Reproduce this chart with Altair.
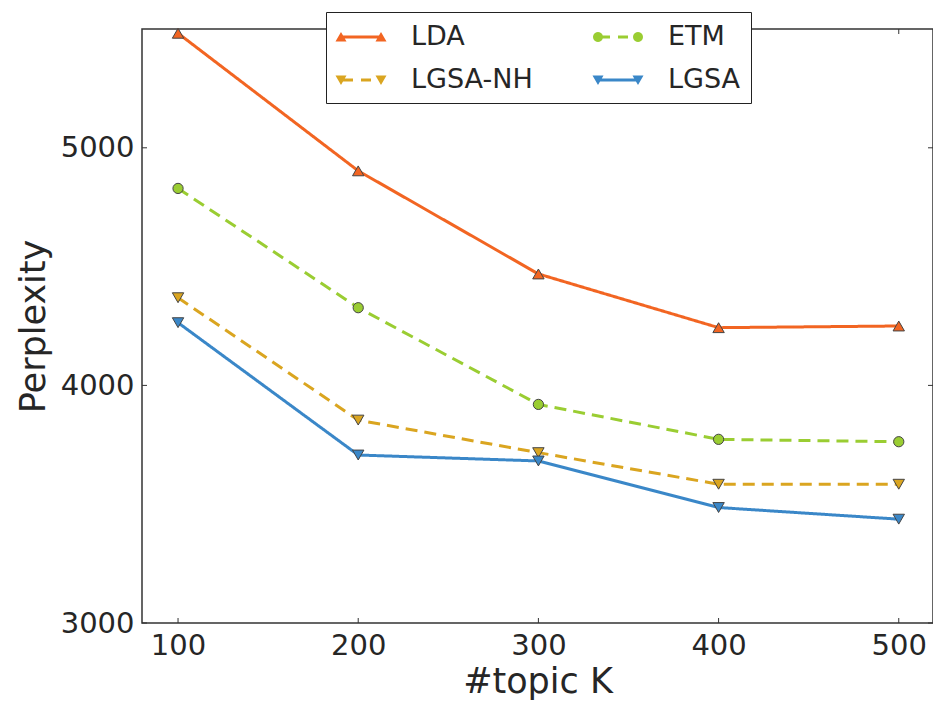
import math
import altair as alt
import pandas as pd

# ---- data ----
topics = [100, 200, 300, 400, 500]
series_names = ["LDA", "ETM", "LGSA-NH", "LGSA"]
lda = [5482, 4903, 4469, 4243, 4250]
etm = [4829, 4327, 3920, 3773, 3763]
lgsa_nh = [4369, 3854, 3717, 3584, 3584]
lgsa = [4264, 3707, 3682, 3486, 3437]
x_tick_values = [100, 200, 300, 400, 500]
y_tick_values = [3000, 4000, 5000]

colors = ["#F26522", "#9ACD32", "#DAA520", "#3A87C8"]
marker_shapes = ["triangle-up", "circle", "triangle-down", "triangle-down"]
marker_sizes = [130, 105, 130, 130]
dashes = [[1, 0], [12, 7], [12, 7], [1, 0]]

values = {"LDA": lda, "ETM": etm, "LGSA-NH": lgsa_nh, "LGSA": lgsa}
rows = []
for name in series_names:
    for t, v in zip(topics, values[name]):
        rows.append({"series": name, "topic": t, "perplexity": v})
df = pd.DataFrame(rows)

W, H = 791, 594
FONT = "DejaVu Sans"
TXT = "#262626"

# ---- legend symbols (line + two markers); symbol unit = 15 px (size 900) ----
SYM = 15.0

def u(px):  # px measured from the symbol's left edge -> symbol units
    return (px - 15.0) / SYM

def f(v):
    return f"{v:.3f}"

def poly(pts):
    return "M" + "L".join(f"{f(x)},{f(y)}" for x, y in pts) + "Z"

def tri_up(cpx):
    c, hw = u(cpx), 5.5 / SYM
    return poly([(c - hw, 4.5 / SYM), (c, -5.0 / SYM), (c + hw, 4.5 / SYM)])

def tri_down(cpx):
    c, hw = u(cpx), 5.5 / SYM
    return poly([(c - hw, -4.5 / SYM), (c + hw, -4.5 / SYM), (c, 5.0 / SYM)])

def circ(cpx, rpx=5.0, n=20):
    c, r = u(cpx), rpx / SYM
    return poly([(c + r * math.cos(2 * math.pi * k / n), r * math.sin(2 * math.pi * k / n)) for k in range(n)])

def seg(apx, bpx, hpx=1.5):
    a, b, h = u(apx), u(bpx), hpx / SYM
    return poly([(a, -h), (b, -h), (b, h), (a, h)])

solid = seg(5, 45)
dashed = seg(5, 17) + seg(25, 35)
legend_paths = [
    solid + tri_up(5) + tri_up(45),
    dashed + circ(5) + circ(45),
    dashed + tri_down(5) + tri_down(45),
    solid + tri_down(5) + tri_down(45),
]

x_axis = alt.Axis(values=x_tick_values, title="#topic K", grid=False, ticks=False, tickSize=0,
                  domain=False, labelFontSize=29, titleFontSize=35, labelPadding=8,
                  titlePadding=4, labelFont=FONT, titleFont=FONT, labelColor=TXT,
                  titleColor=TXT, titleFontWeight="normal", labelFlush=False, format="d")
y_axis = alt.Axis(values=y_tick_values, title="Perplexity", grid=False, ticks=False, tickSize=0,
                  domain=False, labelFontSize=29, titleFontSize=35, labelPadding=8,
                  titlePadding=9, labelFont=FONT, titleFont=FONT, labelColor=TXT,
                  titleColor=TXT, titleFontWeight="normal", labelFlush=False, format="d")

X = alt.X("topic:Q", scale=alt.Scale(domain=[80, 519], nice=False, zero=False), axis=x_axis)
Y = alt.Y("perplexity:Q", scale=alt.Scale(domain=[3000, 5500], nice=False, zero=False), axis=y_axis)

series_layers = []
for i, name in enumerate(series_names):
    base = alt.Chart(df).transform_filter(alt.datum.series == name)
    series_layers.append(
        base.mark_line(color=colors[i], strokeWidth=3, strokeDash=dashes[i]).encode(x=X, y=Y)
    )
    series_layers.append(
        base.mark_point(filled=True, color=colors[i], shape=marker_shapes[i], size=marker_sizes[i],
                        stroke="#444444", strokeWidth=1, opacity=1).encode(x=X, y=Y)
    )

legend = alt.Legend(
    orient="none", legendX=184, legendY=-17, columns=2, direction="horizontal",
    symbolSize=900, symbolStrokeWidth=0, symbolOpacity=1,
    labelFontSize=27, labelFont=FONT, labelColor=TXT, labelOffset=45,
    columnPadding=59, rowPadding=15, padding=10,
    strokeColor="#222222", fillColor="white",
)

legend_layer = alt.Chart(pd.DataFrame({"series": series_names, "topic": [0, 0, 0, 0],
                                        "perplexity": [0, 0, 0, 0]})).mark_point(
    filled=True, opacity=1, clip=True
).encode(
    x=X, y=Y,
    fill=alt.Fill("series:N", scale=alt.Scale(domain=series_names, range=colors),
                  legend=legend, title=None),
    shape=alt.Shape("series:N", scale=alt.Scale(domain=series_names, range=legend_paths),
                    legend=legend, title=None),
)

xt = pd.DataFrame({"topic": x_tick_values})
yt = pd.DataFrame({"perplexity": y_tick_values})
tick_style = dict(color="#333333", strokeWidth=1)
ticks_bottom = alt.Chart(xt).mark_rule(**tick_style).encode(x=X, y=alt.value(H), y2=alt.value(H - 5))
ticks_top = alt.Chart(xt).mark_rule(**tick_style).encode(x=X, y=alt.value(0), y2=alt.value(5))
ticks_left = alt.Chart(yt).mark_rule(**tick_style).encode(y=Y, x=alt.value(0), x2=alt.value(5))
ticks_right = alt.Chart(yt).mark_rule(**tick_style).encode(y=Y, x=alt.value(W), x2=alt.value(W - 5))

chart = alt.layer(
    ticks_bottom, ticks_top, ticks_left, ticks_right, *series_layers, legend_layer
).properties(
    width=W, height=H,
    autosize=alt.AutoSizeParams(type="none"),
    padding={"left": 142, "top": 29, "right": 0, "bottom": 78},
    background="white",
).configure_view(
    stroke="#333333", strokeWidth=1.5
)

chart.save("out.html", embed_options={"renderer": "svg", "actions": False})
